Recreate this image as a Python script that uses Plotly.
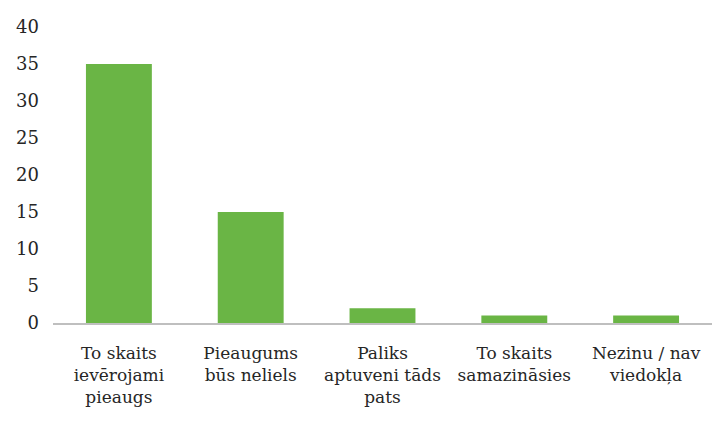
import plotly.graph_objects as go

# Survey answers and their counts
categories = [
    "To skaits<br>ievērojami<br>pieaugs",
    "Pieaugums<br>būs neliels",
    "Paliks<br>aptuveni tāds<br>pats",
    "To skaits<br>samazināsies",
    "Nezinu / nav<br>viedokļa",
]
counts = [35, 15, 2, 1, 1]
y_ticks = [0, 5, 10, 15, 20, 25, 30, 35, 40]

FONT = "DejaVu Serif, serif"

fig = go.Figure(
    go.Bar(
        x=categories,
        y=counts,
        marker=dict(color="#6ab545", line=dict(width=0)),
        width=0.5,
    )
)

fig.update_layout(
    width=715,
    height=423,
    margin=dict(l=53, r=3, t=27, b=100),
    paper_bgcolor="white",
    plot_bgcolor="white",
    showlegend=False,
    font=dict(family=FONT, color="#262626", size=17),
)

fig.update_xaxes(
    showline=True,
    linecolor="#bfbfbf",
    linewidth=1.5,
    showgrid=False,
    ticks="",
    tickfont=dict(family=FONT, size=17),
    tickangle=0,
    ticklabelstandoff=14,
)
fig.update_yaxes(
    range=[0, 40],
    tickvals=y_ticks,
    showgrid=False,
    zeroline=False,
    showline=False,
    ticks="",
    tickfont=dict(family=FONT, size=18),
    ticklabelstandoff=13,
)

fig.write_html("out.html")
